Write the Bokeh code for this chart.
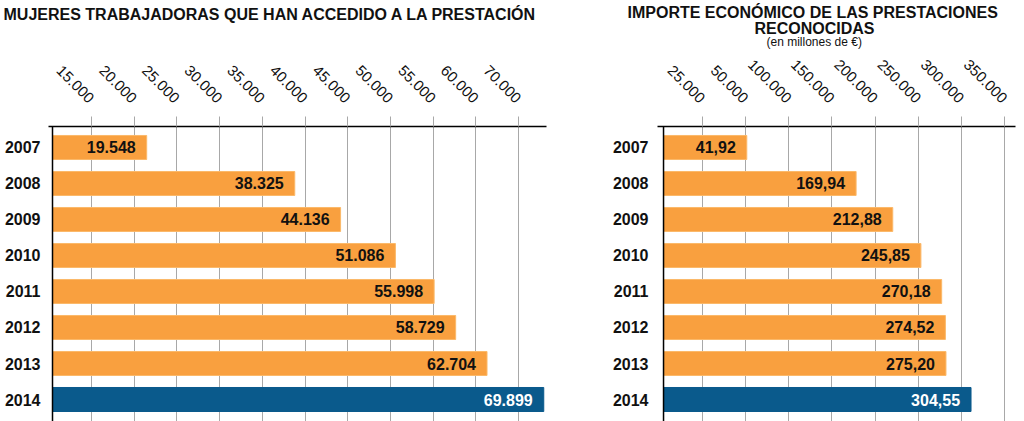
import math
import numpy as np
from bokeh.plotting import figure
from bokeh.models import ColumnDataSource, Range1d, FixedTicker, Span, Title
from bokeh.layouts import row
from bokeh.core.properties import value
from bokeh.embed import file_html
from bokeh.resources import INLINE

# ---------------- data ----------------
years = ["2007", "2008", "2009", "2010", "2011", "2012", "2013", "2014"]
mujeres = [19548, 38325, 44136, 51086, 55998, 58729, 62704, 69899]
mujeres_text = ["19.548", "38.325", "44.136", "51.086", "55.998", "58.729", "62.704", "69.899"]
importe = [41.92, 169.94, 212.88, 245.85, 270.18, 274.52, 275.20, 304.55]
importe_text = ["41,92", "169,94", "212,88", "245,85", "270,18", "274,52", "275,20", "304,55"]
left_tick_labels = ["15.000", "20.000", "25.000", "30.000", "35.000", "40.000",
                    "45.000", "50.000", "55.000", "60.000", "70.000"]
right_tick_labels = ["25.000", "50.000", "100.000", "150.000", "200.000",
                     "250.000", "300.000", "350.000"]
left_title = "MUJERES TRABAJADORAS QUE HAN ACCEDIDO A LA PRESTACIÓN"
right_title_1 = "IMPORTE ECONÓMICO DE LAS PRESTACIONES"
right_title_2 = "RECONOCIDAS"
right_subtitle = "(en millones de €)"

# ---------------- style ----------------
ORANGE = "#F9A03F"
ORANGE_EDGE = "#FBB96A"
BLUE = "#0A5A8C"
GRID = "#a8a8a8"
FONT = "Liberation Sans"
H = 421


def panel(values, texts, tick_labels, x_range, base, tick_span, width,
          border_left, border_right, label_standoff):
    n = len(years)
    ypos = list(range(n))
    colors = [ORANGE] * (n - 1) + [BLUE]
    edges = [ORANGE_EDGE] * (n - 1) + [BLUE]
    tcolors = ["#111111"] * (n - 1) + ["white"]
    src = ColumnDataSource(dict(y=ypos, v=values, t=texts, c=colors, e=edges, tc=tcolors))

    p = figure(width=width, height=H, output_backend="svg", toolbar_location=None,
               x_range=Range1d(*x_range), y_range=Range1d(n - 1 + 0.611, -0.583),
               x_axis_location="above", min_border_left=border_left,
               min_border_right=border_right, min_border_top=126, min_border_bottom=0)
    p.outline_line_color = None
    p.background_fill_color = "white"

    ticks = [float(t) for t in np.linspace(tick_span[0], tick_span[1], len(tick_labels))]
    xt = FixedTicker(ticks=ticks)
    p.xaxis.ticker = xt
    p.xgrid.ticker = xt
    p.xaxis.major_label_overrides = {t: l for t, l in zip(ticks, tick_labels)}
    p.xaxis.major_label_orientation = -math.pi / 4
    p.xaxis.major_label_text_font = FONT
    p.xaxis.major_label_text_font_size = "15px"
    p.xaxis.major_label_text_color = "#111111"
    p.xaxis.major_label_standoff = 16
    p.xaxis.major_tick_in = 0
    p.xaxis.major_tick_out = 10
    p.xaxis.major_tick_line_color = GRID
    p.xaxis.minor_tick_line_color = None
    p.xaxis.axis_line_color = "black"
    p.xaxis.axis_line_width = 1.5
    p.xgrid.grid_line_color = GRID
    p.xgrid.grid_line_width = 1
    p.ygrid.grid_line_color = None

    p.yaxis.ticker = FixedTicker(ticks=ypos)
    p.yaxis.major_label_overrides = {i: y for i, y in zip(ypos, years)}
    p.yaxis.major_label_text_font = FONT
    p.yaxis.major_label_text_font_size = "16px"
    p.yaxis.major_label_text_font_style = "bold"
    p.yaxis.major_label_text_color = "#111111"
    p.yaxis.major_label_standoff = label_standoff
    p.yaxis.axis_line_color = None
    p.yaxis.major_tick_line_color = None
    p.yaxis.minor_tick_line_color = None
    p.yaxis.major_tick_out = 0
    p.yaxis.major_tick_in = 0
    p.yaxis.minor_tick_out = 0

    p.hbar(y="y", left=base, right="v", height=0.667, fill_color="c",
           line_color="e", line_width=1, source=src)
    p.text(x="v", y="y", text="t", x_offset=-11, text_align="right",
           text_baseline="middle", text_font=value(FONT), source=src,
           text_font_size="16px", text_font_style="bold", text_color="tc")
    p.add_layout(Span(location=base, dimension="height", line_color="black", line_width=1.5))
    return p


def heading(p, text, offset, size, style, standoff):
    p.add_layout(Title(text=text, align="left", offset=offset, vertical_align="top",
                       text_font=FONT, text_font_size=size, text_font_style=style,
                       text_color="#111111", standoff=standoff), "above")


left = panel(mujeres, mujeres_text, left_tick_labels, (7097, 70247), 7605,
             (12550, 66700), 600, 48, 54, 8)
right = panel(importe, importe_text, right_tick_labels, (-62.66, 356.64), -55.6,
              (-10, 344), 424, 57, 9, 9)

# spacer between the axis labels and the left heading
heading(left, " ", 0, "1px", "normal", 30)
heading(left, left_title, -45, "16px", "bold", 0)

heading(right, right_subtitle, 109, "12px", "normal", 3)
heading(right, right_title_2, 97, "16px", "bold", -11)
heading(right, right_title_1, -30, "16px", "bold", 6)

layout = row(left, right)
open("out.html", "w").write(file_html(layout, INLINE))
